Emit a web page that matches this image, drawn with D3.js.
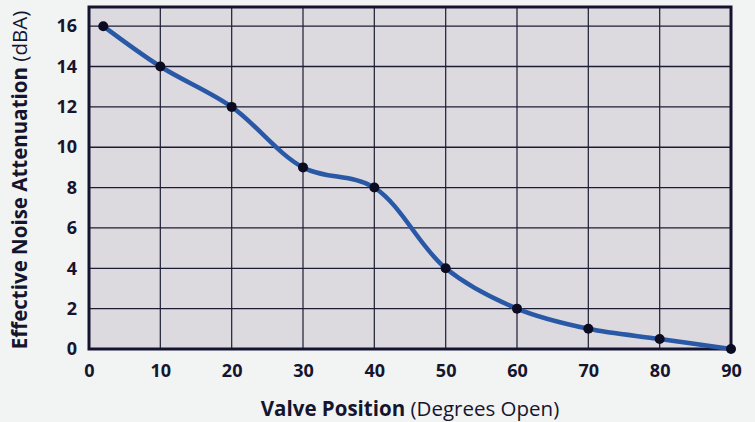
<!DOCTYPE html>
<html>
<head>
    <script src="https://d3js.org/d3.v7.min.js"></script>
    <style>
        body { margin: 0; background: #f2f3f3; }
        text { font-family: "Open Sans", sans-serif; fill: #15152e; }
    </style>
</head>
<body>
    <script>
        // valve position (degrees open) and attenuation (dBA)
        const positions = [2, 10, 20, 30, 40, 50, 60, 70, 80, 90];
        const attenuation = [16, 14, 12, 9, 8, 4, 2, 1, 0.5, 0];
        const xTicks = [0, 10, 20, 30, 40, 50, 60, 70, 80, 90];
        const yTicks = [0, 2, 4, 6, 8, 10, 12, 14, 16];

        const width = 755, height = 422;
        const padLeft = 89, padRight = 731, padTop = 7, padBottom = 349;

        const svg = d3.select('body').append('svg')
            .attr('width', width)
            .attr('height', height);

        svg.append('rect')
            .attr('width', width).attr('height', height)
            .attr('fill', '#f2f3f3');

        const x = d3.scaleLinear().domain([0, 90]).range([padLeft, padRight]);
        const y = d3.scaleLinear().domain([0, 16.95]).range([padBottom, padTop]);

        // plot background
        svg.append('rect')
            .attr('x', padLeft).attr('y', padTop)
            .attr('width', padRight - padLeft).attr('height', padBottom - padTop)
            .attr('fill', '#dcdadf');

        // grid
        svg.append('g')
            .selectAll('line')
            .data(xTicks.slice(1, -1))
            .join('line')
            .attr('x1', d => x(d)).attr('x2', d => x(d))
            .attr('y1', padTop).attr('y2', padBottom)
            .attr('stroke', '#2a2a40').attr('stroke-width', 1.3);

        svg.append('g')
            .selectAll('line')
            .data(yTicks.slice(1))
            .join('line')
            .attr('x1', padLeft).attr('x2', padRight)
            .attr('y1', d => y(d)).attr('y2', d => y(d))
            .attr('stroke', '#1c1c35').attr('stroke-width', 1.3);

        // frame
        svg.append('rect')
            .attr('x', padLeft).attr('y', padTop)
            .attr('width', padRight - padLeft).attr('height', padBottom - padTop)
            .attr('fill', 'none')
            .attr('stroke', '#141430').attr('stroke-width', 3);

        // tick labels
        const xAxis = d3.axisBottom(x).tickValues(xTicks).tickSize(0).tickPadding(15);
        svg.append('g')
            .attr('transform', `translate(0, ${padBottom})`)
            .call(xAxis)
            .call(g => g.select('.domain').remove())
            .selectAll('text')
            .style('font-size', '18px')
            .style('font-weight', 'bold')
            .attr('fill', '#15152e');

        const yAxis = d3.axisLeft(y).tickValues(yTicks).tickSize(0).tickPadding(12);
        svg.append('g')
            .attr('transform', `translate(${padLeft}, 0)`)
            .call(yAxis)
            .call(g => g.select('.domain').remove())
            .selectAll('text')
            .style('font-size', '18px')
            .style('font-weight', 'bold')
            .attr('fill', '#15152e');

        // line
        const data = positions.map((p, i) => ({ p: p, v: attenuation[i] }));
        const line = d3.line()
            .x(d => x(d.p))
            .y(d => y(d.v))
            .curve(d3.curveCatmullRom.alpha(0.5));

        svg.append('path')
            .datum(data)
            .attr('d', line)
            .attr('fill', 'none')
            .attr('stroke', '#2858a6')
            .attr('stroke-width', 4.5)
            .attr('stroke-linecap', 'round');

        svg.append('g')
            .selectAll('circle')
            .data(data)
            .join('circle')
            .attr('cx', d => x(d.p))
            .attr('cy', d => y(d.v))
            .attr('r', 5)
            .attr('fill', '#0b0b22');

        // axis titles
        const xt = svg.append('text')
            .attr('x', 410).attr('y', 416)
            .attr('text-anchor', 'middle')
            .style('font-size', '20.5px');
        xt.append('tspan').style('font-weight', 'bold').text('Valve Position');
        xt.append('tspan').text(' (Degrees Open)');

        const yt = svg.append('text')
            .attr('transform', `translate(27, ${(padTop + padBottom) / 2 + 2}) rotate(-90)`)
            .attr('text-anchor', 'middle')
            .style('font-size', '20.5px');
        yt.append('tspan').style('font-weight', 'bold').text('Effective Noise Attenuation');
        yt.append('tspan').text(' (dBA)');
    </script>
</body>
</html>
